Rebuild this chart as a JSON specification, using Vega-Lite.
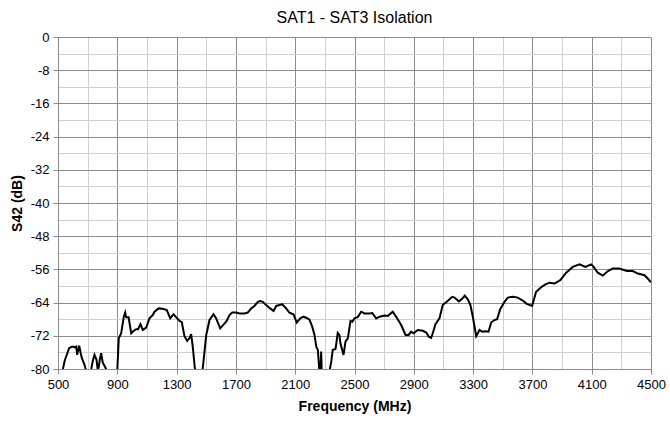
{
  "$schema": "https://vega.github.io/schema/vega-lite/v6.json",
  "autosize": {"type": "none"},
  "padding": {"left": 58, "top": 37, "right": 19, "bottom": 57},
  "width": 593,
  "height": 332,
  "background": "white",
  "title": {"text": "SAT1 - SAT3 Isolation", "fontSize": 16, "fontWeight": "normal", "font": "Liberation Sans, Arial", "color": "#000", "offset": 5},
  "config": {"view": {"stroke": null}},
  "data": {"values": [
    {"f":500,"db":-86},{"f":530,"db":-80.5},{"f":545,"db":-78},{"f":560,"db":-76.5},{"f":575,"db":-75},{"f":590,"db":-74.7},{"f":600,"db":-74.6},{"f":612,"db":-74.8},{"f":623,"db":-74.6},{"f":629,"db":-76.6},{"f":643,"db":-74.4},{"f":652,"db":-76},{"f":661,"db":-77.4},{"f":679,"db":-79},{"f":690,"db":-80.5},{"f":705,"db":-83},{"f":724,"db":-80},{"f":735,"db":-78},{"f":746,"db":-76.6},{"f":760,"db":-77.8},{"f":768,"db":-80.2},{"f":775,"db":-79.5},{"f":783,"db":-77.5},{"f":791,"db":-76.2},{"f":802,"db":-78.5},{"f":818,"db":-79.5},{"f":829,"db":-80.5},{"f":860,"db":-84},{"f":899,"db":-81},
    {"f":910,"db":-72.6},{"f":926,"db":-71.4},{"f":944,"db":-67.4},{"f":953,"db":-66.4},{"f":960,"db":-67.5},{"f":976,"db":-67.5},{"f":994,"db":-71.4},{"f":1011,"db":-70.8},{"f":1027,"db":-70.4},{"f":1040,"db":-70.4},{"f":1056,"db":-69.2},{"f":1072,"db":-70.6},{"f":1095,"db":-70.0},{"f":1117,"db":-67.8},{"f":1139,"db":-67.0},{"f":1151,"db":-66.2},{"f":1178,"db":-65.4},{"f":1207,"db":-65.5},{"f":1234,"db":-65.8},{"f":1257,"db":-67.8},{"f":1279,"db":-66.8},{"f":1304,"db":-67.8},{"f":1320,"db":-68.4},{"f":1335,"db":-68.7},{"f":1353,"db":-72.1},{"f":1371,"db":-73.2},{"f":1387,"db":-72.6},{"f":1398,"db":-71.6},{"f":1409,"db":-74.6},{"f":1425,"db":-80.5},{"f":1450,"db":-88},{"f":1473,"db":-81},
    {"f":1500,"db":-71.8},{"f":1522,"db":-68.2},{"f":1549,"db":-66.8},{"f":1567,"db":-67.8},{"f":1594,"db":-70.2},{"f":1616,"db":-69.3},{"f":1635,"db":-68.6},{"f":1657,"db":-67.0},{"f":1675,"db":-66.4},{"f":1702,"db":-66.4},{"f":1724,"db":-66.6},{"f":1758,"db":-66.6},{"f":1780,"db":-66.4},{"f":1803,"db":-65.4},{"f":1825,"db":-64.8},{"f":1848,"db":-63.8},{"f":1864,"db":-63.6},{"f":1881,"db":-63.8},{"f":1904,"db":-64.6},{"f":1931,"db":-65.4},{"f":1954,"db":-66.0},{"f":1972,"db":-64.8},{"f":1994,"db":-64.6},{"f":2012,"db":-64.4},{"f":2039,"db":-65.4},{"f":2061,"db":-66.4},{"f":2088,"db":-66.8},{"f":2111,"db":-68.8},{"f":2134,"db":-67.8},{"f":2156,"db":-67.4},{"f":2178,"db":-67.7},{"f":2196,"db":-68.1},{"f":2215,"db":-69.8},{"f":2230,"db":-71.8},{"f":2242,"db":-74.6},{"f":2253,"db":-75.4},{"f":2258,"db":-78},{"f":2264,"db":-81},{"f":2270,"db":-81},{"f":2275,"db":-75.8},{"f":2280,"db":-82},{"f":2300,"db":-84},{"f":2331,"db":-80.5},
    {"f":2343,"db":-78.3},{"f":2353,"db":-75.4},{"f":2372,"db":-75.2},{"f":2387,"db":-71.3},{"f":2398,"db":-71.8},{"f":2405,"db":-73.8},{"f":2426,"db":-76.6},{"f":2439,"db":-73.4},{"f":2455,"db":-72.6},{"f":2473,"db":-68.4},{"f":2485,"db":-68.6},{"f":2500,"db":-67.8},{"f":2522,"db":-67.5},{"f":2545,"db":-66.2},{"f":2567,"db":-66.6},{"f":2601,"db":-66.6},{"f":2620,"db":-66.5},{"f":2646,"db":-67.8},{"f":2669,"db":-67.4},{"f":2702,"db":-67.1},{"f":2725,"db":-67.2},{"f":2758,"db":-66.2},{"f":2781,"db":-67.4},{"f":2815,"db":-69.4},{"f":2844,"db":-71.8},{"f":2865,"db":-71.8},{"f":2882,"db":-71.0},{"f":2898,"db":-71.4},{"f":2927,"db":-70.6},{"f":2961,"db":-70.8},{"f":2984,"db":-71.2},{"f":3001,"db":-72.2},{"f":3017,"db":-72.5},{"f":3028,"db":-71.4},{"f":3046,"db":-69.2},{"f":3073,"db":-67.8},{"f":3095,"db":-64.6},{"f":3122,"db":-63.8},{"f":3159,"db":-62.6},{"f":3175,"db":-62.8},{"f":3204,"db":-63.7},{"f":3226,"db":-63.1},{"f":3244,"db":-62.3},{"f":3264,"db":-63.2},{"f":3282,"db":-64.6},{"f":3298,"db":-67.4},{"f":3321,"db":-72.1},{"f":3343,"db":-70.6},{"f":3361,"db":-71.0},{"f":3385,"db":-70.9},{"f":3404,"db":-71.0},{"f":3422,"db":-68.8},{"f":3444,"db":-68.2},{"f":3462,"db":-68.0},{"f":3483,"db":-65.6},{"f":3512,"db":-63.8},{"f":3534,"db":-62.8},{"f":3568,"db":-62.6},{"f":3601,"db":-62.8},{"f":3635,"db":-63.5},{"f":3662,"db":-64.3},{"f":3698,"db":-64.8},{"f":3725,"db":-61.4},{"f":3759,"db":-60.3},{"f":3788,"db":-59.6},{"f":3815,"db":-59.2},{"f":3849,"db":-59.4},{"f":3888,"db":-58.6},{"f":3928,"db":-56.8},{"f":3972,"db":-55.4},{"f":4018,"db":-54.8},{"f":4058,"db":-55.4},{"f":4096,"db":-54.8},{"f":4110,"db":-55.2},{"f":4141,"db":-56.8},{"f":4175,"db":-57.5},{"f":4209,"db":-56.4},{"f":4242,"db":-55.8},{"f":4287,"db":-55.8},{"f":4337,"db":-56.4},{"f":4377,"db":-56.4},{"f":4411,"db":-57.0},{"f":4456,"db":-57.4},{"f":4478,"db":-58.2},{"f":4500,"db":-59.1}
  ]},
  "mark": {"type": "line", "color": "#000", "strokeWidth": 2, "clip": true, "interpolate": "linear"},
  "encoding": {
    "x": {
      "field": "f", "type": "quantitative",
      "scale": {"domain": [500, 4500], "nice": false, "zero": false},
      "axis": {
        "title": "Frequency (MHz)",
        "titleFont": "Liberation Sans, Arial", "titleFontSize": 14, "titleFontWeight": "bold", "titleColor": "#000", "titlePadding": 8,
        "values": [500,700,900,1100,1300,1500,1700,1900,2100,2300,2500,2700,2900,3100,3300,3500,3700,3900,4100,4300,4500],
        "labelExpr": "(datum.value - 500) % 400 === 0 ? '' + datum.value : ''",
        "labelFont": "Liberation Sans, Arial", "labelFontSize": 13, "labelColor": "#000", "labelPadding": 4, "labelFlush": false, "labelOverlap": false,
        "grid": true,
        "gridColor": {"condition": {"test": "(datum.value - 500) % 400 === 0", "value": "#8c8c8c"}, "value": "#d0d0d0"},
        "gridWidth": 1,
        "domainColor": "#8c8c8c",
        "tickColor": {"condition": {"test": "(datum.value - 500) % 400 === 0", "value": "#8c8c8c"}, "value": "transparent"},
        "tickSize": 5
      }
    },
    "y": {
      "field": "db", "type": "quantitative",
      "scale": {"domain": [-80, 0], "nice": false, "zero": false},
      "axis": {
        "title": "S42 (dB)",
        "titleFont": "Liberation Sans, Arial", "titleFontSize": 14, "titleFontWeight": "bold", "titleColor": "#000", "titlePadding": 6,
        "values": [-80,-76,-72,-68,-64,-60,-56,-52,-48,-44,-40,-36,-32,-28,-24,-20,-16,-12,-8,-4,0],
        "labelExpr": "datum.value % 8 === 0 ? '' + datum.value : ''",
        "labelFont": "Liberation Sans, Arial", "labelFontSize": 13, "labelColor": "#000", "labelPadding": 4, "labelFlush": false, "labelOverlap": false,
        "grid": true,
        "gridColor": {"condition": {"test": "datum.value % 8 === 0", "value": "#8c8c8c"}, "value": "#d0d0d0"},
        "gridWidth": 1,
        "domainColor": "#8c8c8c",
        "tickColor": {"condition": {"test": "datum.value % 8 === 0", "value": "#8c8c8c"}, "value": "transparent"},
        "tickSize": 5
      }
    }
  }
}
